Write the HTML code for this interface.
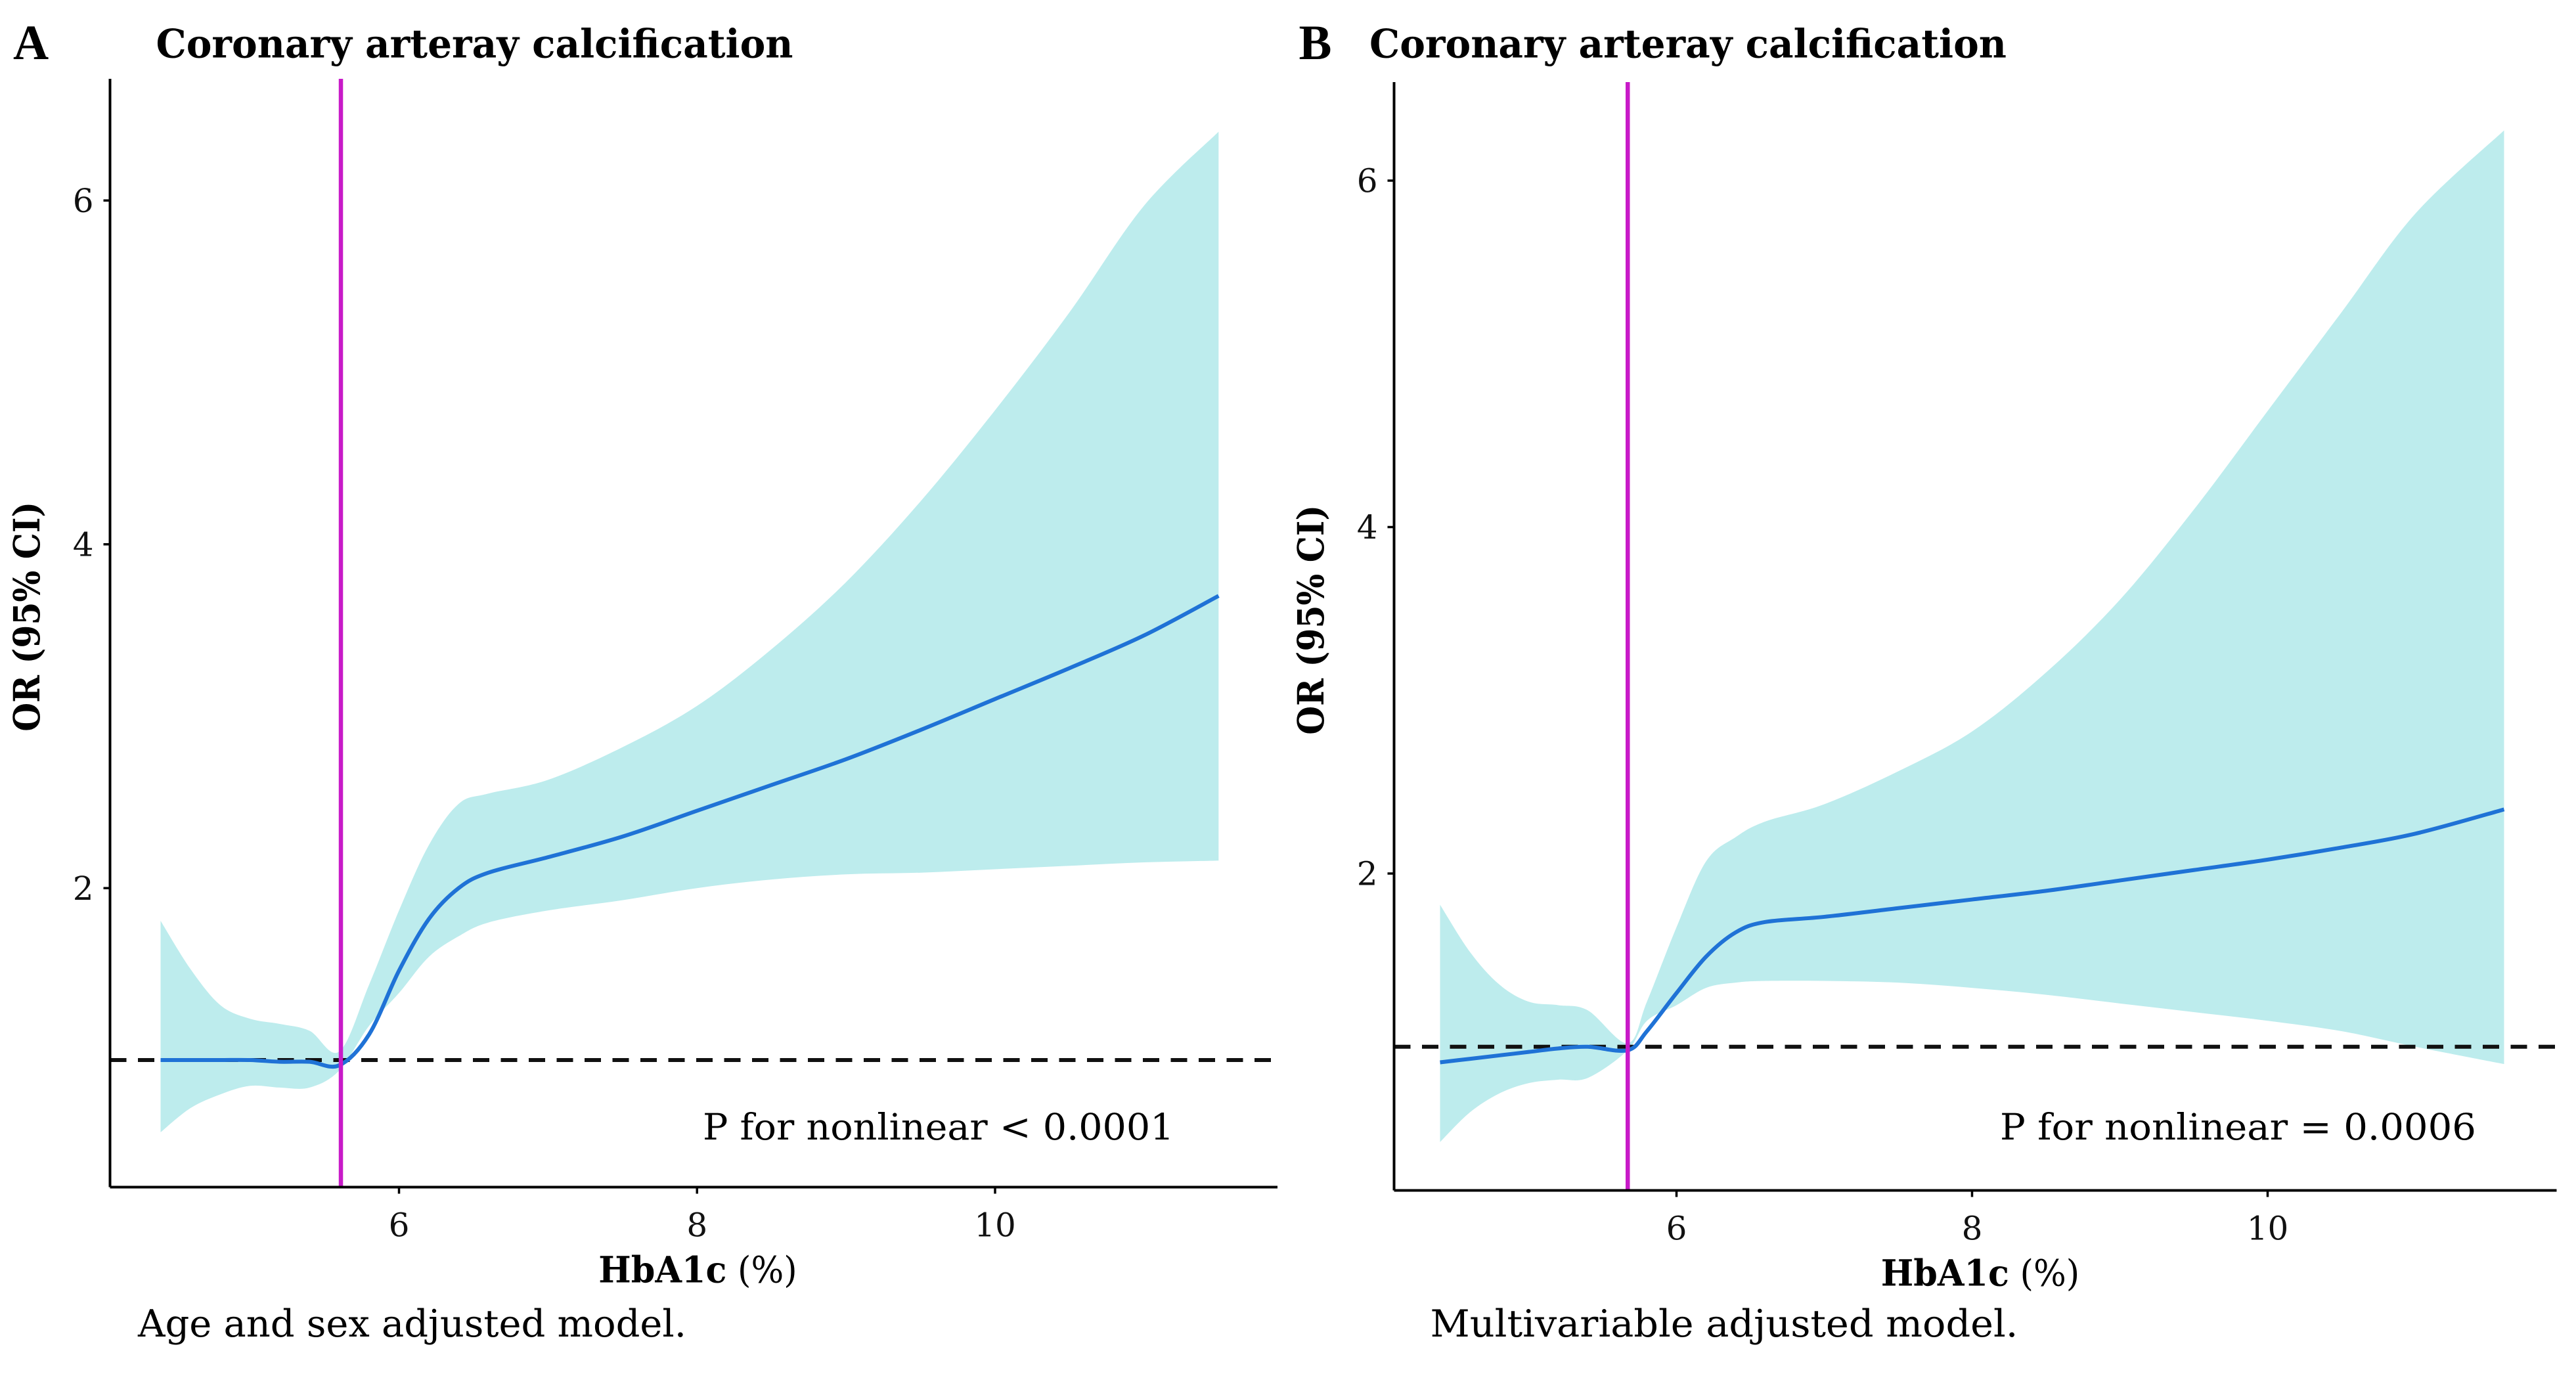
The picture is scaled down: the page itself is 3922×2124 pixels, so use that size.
<!DOCTYPE html>
<html><head><meta charset="utf-8"><style>
html,body{margin:0;padding:0;background:#fff;}
svg{display:block;font-family:"DejaVu Serif","Liberation Serif",serif;}
</style></head><body>
<svg id="chart" width="3922" height="2124" viewBox="0 0 1568.8 849.6" xmlns="http://www.w3.org/2000/svg">
<rect width="1568.8" height="849.6" fill="#fff"/>
</svg>
<script>
// Panel A data
const xA = [4.4,4.6,4.8,5.0,5.2,5.4,5.6,5.8,6.0,6.2,6.4,6.6,7,7.5,8,8.5,9,9.5,10,10.5,11,11.5];
const orA = [1.0,1.0,1.0,1.0,0.99,0.99,0.97,1.15,1.52,1.82,2.0,2.09,2.18,2.3,2.45,2.6,2.75,2.92,3.1,3.28,3.47,3.7];
const upA = [1.81,1.53,1.32,1.24,1.21,1.17,1.05,1.44,1.87,2.25,2.49,2.55,2.63,2.82,3.06,3.39,3.78,4.25,4.78,5.35,5.97,6.4];
const loA = [0.58,0.72,0.80,0.85,0.84,0.84,0.94,1.2,1.39,1.6,1.72,1.8,1.87,1.93,2.0,2.05,2.08,2.09,2.11,2.13,2.15,2.16];
// Panel B data
const xB = [4.4,4.6,4.8,5.0,5.2,5.4,5.67,5.8,6.0,6.2,6.4,6.6,7,7.5,8,8.5,9,9.5,10,10.5,11,11.6];
const orB = [0.91,0.93,0.95,0.97,0.99,1.0,0.98,1.09,1.31,1.52,1.66,1.72,1.75,1.8,1.85,1.9,1.96,2.02,2.08,2.15,2.23,2.37];
const upB = [1.82,1.55,1.36,1.26,1.24,1.21,1.02,1.26,1.69,2.07,2.21,2.3,2.4,2.59,2.82,3.16,3.58,4.1,4.67,5.24,5.81,6.29];
const loB = [0.45,0.62,0.73,0.79,0.81,0.82,0.98,1.15,1.24,1.34,1.37,1.38,1.38,1.37,1.34,1.3,1.25,1.2,1.15,1.09,1.0,0.9];
const xTicks = [6,8,10];
const yTicks = [2,4,6];
const cutA = 5.61, cutB = 5.67;
const refOR = 1;

const NS = "http://www.w3.org/2000/svg";
const svg = document.getElementById('chart');
function mk(tag, attrs, parent, text){
  const e = document.createElementNS(NS, tag);
  for (const k in attrs) e.setAttribute(k, attrs[k]);
  if (text !== undefined) e.textContent = text;
  (parent||svg).appendChild(e);
  return e;
}
function smoothPath(pts){
  let d = 'M' + pts[0][0] + ',' + pts[0][1];
  for (let i=0;i<pts.length-1;i++){
    const p0 = pts[Math.max(0,i-1)], p1 = pts[i], p2 = pts[i+1], p3 = pts[Math.min(pts.length-1,i+2)];
    const c1x = p1[0] + (p2[0]-p0[0])/6, c1y = p1[1] + (p2[1]-p0[1])/6;
    const c2x = p2[0] - (p3[0]-p1[0])/6, c2y = p2[1] - (p3[1]-p1[1])/6;
    d += 'C' + c1x + ',' + c1y + ' ' + c2x + ',' + c2y + ' ' + p2[0] + ',' + p2[1];
  }
  return d;
}

function panel(cfg){
  const g = mk('g', {});
  
  
  const sx = v => cfg.x6 + (v - 6) * cfg.pxPerX;
  const sy = v => cfg.y1 - (v - 1) * cfg.pxPerY;
  const upPts = cfg.xs.map((v,i)=>[sx(v), sy(cfg.up[i])]);
  const loPts = cfg.xs.map((v,i)=>[sx(v), sy(cfg.lo[i])]).reverse();
  const d = smoothPath(upPts) + 'L' + loPts[0][0] + ',' + loPts[0][1] + smoothPath(loPts).slice(1).replace(/^[^C]*/, '') + 'Z';
  const band = mk('path', {d: d, fill: '#bdeced'}, g);
  
  
  const ref = mk('line', {x1: cfg.axL, x2: cfg.axR, y1: sy(refOR), y2: sy(refOR), stroke: '#111', 'stroke-width': 2.4, 'stroke-dasharray': '10,7'}, g);
  
  
  const line = mk('path', {d: smoothPath(cfg.xs.map((v,i)=>[sx(v), sy(cfg.or[i])])), fill: 'none', stroke: '#1f72d6', 'stroke-width': 2.4, 'stroke-linejoin': 'round'}, g);
  
  
  const cut = mk('line', {x1: sx(cfg.cut), x2: sx(cfg.cut), y1: cfg.axT, y2: cfg.axB, stroke: '#c81ac8', 'stroke-width': 2.6}, g);
  
  
  const ya = mk('line', {x1: cfg.axL, x2: cfg.axL, y1: cfg.axT, y2: cfg.axB, stroke: '#000', 'stroke-width': 1.6}, g);
  
  
  const xa = mk('line', {x1: cfg.axL, x2: cfg.axR, y1: cfg.axB, y2: cfg.axB, stroke: '#000', 'stroke-width': 1.6}, g);
  
  
  xTicks.forEach(t=>{
    mk('line', {x1: sx(t), x2: sx(t), y1: cfg.axB, y2: cfg.axB+4, stroke:'#000','stroke-width':1.4}, g);
    const tl = mk('text', {x: sx(t), y: cfg.axB+30, 'text-anchor':'middle','font-size':20, fill:'#111'}, g, String(t));
    
    
  });
  yTicks.forEach(t=>{
    mk('line', {x1: cfg.axL-4, x2: cfg.axL, y1: sy(t), y2: sy(t), stroke:'#000','stroke-width':1.4}, g);
    const tl = mk('text', {x: cfg.axL-10, y: sy(t)+7, 'text-anchor':'end','font-size':20, fill:'#111'}, g, String(t));
    
    
  });
  const pl = mk('text', {x: cfg.labX, y: 36, 'font-size':30, 'font-weight':'bold', fill:'#000', 'font-family':'Liberation Serif'}, g, cfg.letter);
  
  
  const ti = mk('text', {x: cfg.titleX, y: 35, 'font-size':24, 'font-weight':'bold', fill:'#000', textLength: 388, lengthAdjust:'spacingAndGlyphs'}, g, 'Coronary arteray calcification');
  
  
  const yt = mk('text', {x: 0, y: 0, 'font-size':22, 'font-weight':'bold', fill:'#000', 'text-anchor':'middle', textLength: 140, lengthAdjust:'spacingAndGlyphs', transform:`translate(${cfg.axL-43},${(cfg.axT+cfg.axB)/2 - 10}) rotate(-90)`}, g, 'OR (95% CI)');
  
  
  const xt = mk('text', {x: cfg.xTitleX, y: cfg.axB+58, 'font-size':22, 'text-anchor':'middle', fill:'#000', textLength: 121, lengthAdjust:'spacingAndGlyphs'}, g);
  
  
  mk('tspan', {'font-weight':'bold'}, xt, 'HbA1c');
  mk('tspan', {}, xt, ' (%)');
  const pv = mk('text', {x: cfg.pX, y: cfg.pY, 'font-size':22, 'text-anchor':'end', fill:'#000', textLength: cfg.pLen, lengthAdjust:'spacingAndGlyphs'}, g, cfg.ptext);
  
  
  const cap = mk('text', {x: cfg.capX, y: 814, 'font-size':23, fill:'#000', textLength: cfg.capLen, lengthAdjust:'spacingAndGlyphs'}, g, cfg.caption);
  
  
}

panel({id:'a', letter:'A', labX:8, titleX:95, xs:xA, or:orA, up:upA, lo:loA, cut:cutA,
  x6:243, pxPerX:90.75, y1:645.6, pxPerY:104.7, axL:67, axR:778, axT:48, axB:723,
  xTitleX:425, pX:715, pY:694, pLen:287, ptext:'P for nonlinear < 0.0001', capX:84, capLen:334, caption:'Age and sex adjusted model.'});
panel({id:'b', letter:'B', labX:791, titleX:834, xs:xB, or:orB, up:upB, lo:loB, cut:cutB,
  x6:1021, pxPerX:90, y1:637.5, pxPerY:105.5, axL:849, axR:1557, axT:50, axB:725,
  xTitleX:1206, pX:1508, pY:694, pLen:290, ptext:'P for nonlinear = 0.0006', capX:871, capLen:358, caption:'Multivariable adjusted model.'});
</script>
</body></html>
